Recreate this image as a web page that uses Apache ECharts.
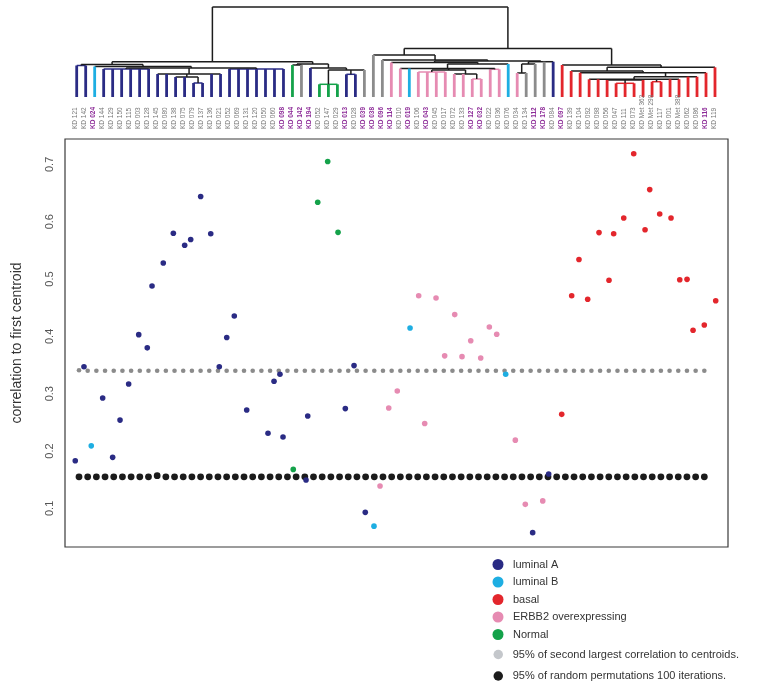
<!DOCTYPE html>
<html><head><meta charset="utf-8">
<script src="https://cdn.jsdelivr.net/npm/echarts@6/dist/echarts.min.js"></script>
<style>html,body{margin:0;padding:0;background:#fff}#c{width:763px;height:687px}</style>
</head><body><div id="c"></div>
<script>
// ---------- DATA ----------
const sampleLabels = ["KD 121","KD 142","KD 024","KD 144","KD 129","KD 150","KD 115","KD 003","KD 128","KD 145",
 "KD 080","KD 138","KD 075","KD 079","KD 137","KD 136","KD 021","KD 052","KD 069","KD 131",
 "KD 120","KD 050","KD 060","KD 098","KD 044","KD 142","KD 194","KD 052","KD 147","KD 029",
 "KD 013","KD 028","KD 039","KD 038","KD 096","KD 114","KD 010","KD 019","KD 106","KD 043",
 "KD 045","KD 017","KD 072","KD 133","KD 127","KD 032","KD 022","KD 036","KD 076","KD 034",
 "KD 134","KD 112","KD 178","KD 084","KD 097","KD 139","KD 104","KD 092","KD 098","KD 056",
 "KD 047","KD 111","KD 073","KD Met 362","KD Met 298","KD 117","KD 001","KD Met 388","KD 062","KD 086",
 "KD 116","KD 119"];
const purpleLabels = [2, 23, 24, 25, 26, 30, 32, 33, 34, 35, 37, 39, 44, 45, 51, 52, 54, 70];

// subtype of each sample (A luminal A, B luminal B, R basal, E ERBB2, N normal)
const sampleClass = ["A","A","B","A","A","A","A","A","A","A",
 "A","A","A","A","A","A","A","A","A","A",
 "A","A","A","A","N","A","A","N","N","N",
 "A","A","A","B","E","E","E","B","E","E",
 "E","E","E","E","E","E","E","E","B","E",
 "E","A","E","A","R","R","R","R","R","R",
 "R","R","R","R","R","R","R","R","R","R",
 "R","R"];
// horizontal position of each sample's point (in dendrogram leaf units)
const samplePos = [-0.16,0.81,1.62,2.89,4.00,4.82,5.78,6.90,7.85,8.38,
 9.63,10.75,12.01,12.68,13.79,14.91,15.86,16.69,17.53,18.91,
 21.28,21.95,22.61,22.95,24.09,25.51,25.70,26.81,27.92,29.07,
 29.88,30.85,32.10,33.07,33.74,34.71,35.66,37.08,38.04,38.71,
 39.97,40.93,42.05,42.86,43.83,44.94,45.90,46.72,47.72,48.79,
 49.90,50.72,51.84,52.50,53.95,55.06,55.87,56.84,58.10,59.21,
 59.73,60.85,61.96,63.22,63.74,64.85,66.11,67.08,67.89,68.56,
 69.81,71.08];
const corrValues = [0.183,0.347,0.209,0.2925,0.189,0.254,0.317,0.403,0.380,0.488,
 0.528,0.580,0.559,0.569,0.644,0.579,0.347,0.398,0.4355,0.2716,
 0.231,0.3216,0.334,0.2245,0.168,0.1495,0.261,0.634,0.705,0.5815,
 0.274,0.349,0.093,0.069,0.139,0.275,0.3047,0.4146,0.471,0.248,
 0.467,0.366,0.438,0.3646,0.3925,0.3623,0.4164,0.4036,0.334,0.219,
 0.107,0.0576,0.113,0.160,0.264,0.471,0.534,0.4647,0.581,0.498,
 0.579,0.6065,0.7187,0.586,0.656,0.6135,0.6065,0.4989,0.4995,0.4106,
 0.4199,0.4622];
// dendrogram leaf colours (G = gray / unassigned)
const leafColorClass = ["A","A","B","A","A","A","A","A","A","A",
 "A","A","A","A","A","A","A","A","A","A",
 "A","A","A","A","N","G","A","N","N","N",
 "A","A","G","G","G","E","E","B","E","E",
 "E","E","E","E","E","E","E","E","B","E",
 "G","G","G","A","R","R","R","R","R","R",
 "R","R","R","R","R","R","R","R","R","R",
 "R","R"];
// merge tree: [height, child, child, ...]; numbers are leaf indices
const dendroTree =
[90,
  [35.3,
    [32.5, [31.5, 0, 1], [30.5, 2, [29, [28, 3, 4, 5, 6, 7, 8], [23, 9, 10, [20, 11, 12, [14, 13, 14]], 15, 16], [28, 17, 18, 19, 20, 21, 22, 23]]]],
    [33, [32, 24, 25], [29, 26, [27, [12.7, 27, 28, 29], [22.7, 30, 31], 32]]]
  ],
  [48.5,
    [42, 33, [37, 34, [36,
        [34.5, 35, [33, [28.5, 36, 37, [27, [25, 38, 39, 40, 41], [23, 42, 43, [18, 44, 45]]], [27.7, 46, 47]], 48]],
        [35.3, [33, [24, 49, 50], 51], 52, 53]
    ]]],
    [32, 54, [29.7, [26, 55, [24.3, 56, [20.3, [17.7, 57, 58, [17, 59, [13.7, 60, 61, 62], 63], [15.3, 64, 65], 66, 67], 68, 69], 70]], 71]]
  ]
];
// 95% of random permutations (black row) and 95% of second largest correlation (gray row)
const permRow = [0.155,0.155,0.155,0.155,0.155,0.155,0.155,0.155,0.155,0.157,
 0.155,0.155,0.155,0.155,0.155,0.155,0.155,0.155,0.155,0.155,
 0.155,0.155,0.155,0.155,0.155,0.155,0.155,0.155,0.155,0.155,
 0.155,0.155,0.155,0.155,0.155,0.155,0.155,0.155,0.155,0.155,
 0.155,0.155,0.155,0.155,0.155,0.155,0.155,0.155,0.155,0.155,
 0.155,0.155,0.155,0.155,0.155,0.155,0.155,0.155,0.155,0.155,
 0.155,0.155,0.155,0.155,0.155,0.155,0.155,0.155,0.155,0.155,
 0.155,0.155,0.155];
const secondRow = [0.341,0.34,0.34,0.34,0.34,0.34,0.34,0.34,0.34,0.34,
 0.34,0.34,0.34,0.34,0.34,0.34,0.34,0.34,0.34,0.34,
 0.34,0.34,0.34,0.34,0.34,0.34,0.34,0.34,0.34,0.34,
 0.34,0.34,0.34,0.34,0.34,0.34,0.34,0.34,0.34,0.34,
 0.34,0.34,0.34,0.34,0.34,0.34,0.34,0.34,0.34,0.34,
 0.34,0.34,0.34,0.34,0.34,0.34,0.34,0.34,0.34,0.34,
 0.34,0.34,0.34,0.34,0.34,0.34,0.34,0.34,0.34,0.34,
 0.34,0.34,0.34];
const yTicks = [0.1, 0.2, 0.3, 0.4, 0.5, 0.6, 0.7];
const classOrder = ["A","B","R","E","N"];
const classNames = {A:"luminal A", B:"luminal B", R:"basal", E:"ERBB2 overexpressing", N:"Normal"};
const secondName = "95% of second largest correlation to centroids.";
const permName = "95% of random permutations 100 iterations.";

// ---------- STYLE ----------
const colors = {A:"#2a2b84", B:"#1eaee2", R:"#e3262c", E:"#e68bb2", N:"#14a24a", G:"#8c8c8c", K:"#1c1c1c"};
const FONT = "Liberation Sans, Arial, sans-serif";

// ---------- DENDROGRAM SEGMENTS ----------
const segs = [];
function lay(node) {
  if (typeof node === "number") return {x: node, h: 0, leaf: true, idx: node};
  const h = node[0];
  const kids = node.slice(1).map(lay);
  const first = kids[0], last = kids[kids.length - 1];
  const x = (first.x + last.x) / 2;
  const same = kids.every(k => k.leaf && leafColorClass[k.idx] === leafColorClass[first.idx]);
  segs.push({x1: first.x, y1: h, x2: last.x, y2: h, c: same ? leafColorClass[first.idx] : "K", w: 1.5});
  kids.forEach(k => segs.push({x1: k.x, y1: k.h, x2: k.x, y2: h,
      c: k.leaf ? leafColorClass[k.idx] : "K", w: k.leaf ? 2.8 : 1.5}));
  return {x, h, leaf: false};
}
lay(dendroTree);

const xMin = -1.301, xMax = 72.447;
const yMin = 0.0326, yMax = 0.7443;

const series = [];
series.push({
  type: "custom", name: "dendrogram", xAxisIndex: 1, yAxisIndex: 1, silent: true,
  data: segs.map(s => [s.x1, s.y1, s.x2, s.y2]),
  encode: {x: [0, 2], y: [1, 3]},
  renderItem: function (params, api) {
    const s = segs[params.dataIndex];
    const p1 = api.coord([s.x1, s.y1]);
    const p2 = api.coord([s.x2, s.y2]);
    return {type: "line", shape: {x1: p1[0], y1: p1[1], x2: p2[0], y2: p2[1]},
      style: {stroke: colors[s.c], lineWidth: s.w, lineCap: "butt"}};
  }
});
series.push({
  type: "custom", name: "labels", xAxisIndex: 1, yAxisIndex: 1, silent: true,
  data: sampleLabels.map((l, i) => [i, 0]),
  encode: {x: 0, y: 1},
  renderItem: function (params, api) {
    const i = params.dataIndex;
    const p = api.coord([i, 0]);
    const purple = purpleLabels.indexOf(i) >= 0;
    return {type: "text", x: p[0] - 1, y: p[1] + 32, rotation: Math.PI / 2,
      style: {text: sampleLabels[i], fill: purple ? "#8d2c98" : "#777",
        font: (purple ? "bold " : "") + "6.5px " + FONT, align: "left", verticalAlign: "middle"}};
  }
});
series.push({
  type: "scatter", name: secondName, xAxisIndex: 2, yAxisIndex: 2, symbol: "circle", symbolSize: 4.6,
  itemStyle: {color: "#8b8b8b", opacity: 1}, data: secondRow.map((v, j) => [j, v]), silent: true
});
series.push({
  type: "scatter", name: permName, xAxisIndex: 2, yAxisIndex: 2, symbol: "circle", symbolSize: 6.8,
  itemStyle: {color: "#1b1b1b", opacity: 1}, data: permRow.map((v, j) => [j, v]), silent: true
});
classOrder.forEach(c => {
  const d = [];
  sampleClass.forEach((k, i) => { if (k === c) d.push([samplePos[i], corrValues[i]]); });
  series.push({type: "scatter", name: classNames[c], xAxisIndex: 0, yAxisIndex: 0, symbol: "circle",
    symbolSize: 5.6, itemStyle: {color: colors[c], opacity: 1}, data: d, silent: true});
});

const option = {
  animation: false,
  backgroundColor: "#fff",
  textStyle: {fontFamily: FONT},
  grid: [
    {left: 65, right: 35, top: 139, bottom: 140, show: true, borderColor: "#3a3a3a", borderWidth: 1.2, backgroundColor: "transparent"},
    {left: 65, right: 35, top: 7, height: 90},
    {left: 74.66, width: 634, top: 139, bottom: 140}
  ],
  xAxis: [
    {gridIndex: 0, type: "value", min: xMin, max: xMax, show: false},
    {gridIndex: 1, type: "value", min: xMin, max: xMax, show: false},
    {gridIndex: 2, type: "value", min: -0.5, max: 72.5, show: false}
  ],
  yAxis: [
    {gridIndex: 0, type: "value", min: yMin, max: yMax,
      axisLine: {show: false}, axisTick: {show: false}, splitLine: {show: false},
      axisLabel: {customValues: yTicks, rotate: 90, fontSize: 11, color: "#555", margin: 10,
        fontFamily: FONT, formatter: v => v.toFixed(1)},
      name: "correlation to first centroid", nameLocation: "middle", nameGap: 41,
      nameTextStyle: {fontSize: 14, color: "#333", fontFamily: FONT}},
    {gridIndex: 1, type: "value", min: 0, max: 90, show: false},
    {gridIndex: 2, type: "value", min: yMin, max: yMax, show: false}
  ],
  legend: [
    {orient: "vertical", left: 492.5, top: 559, padding: 0, itemWidth: 20, itemHeight: 11, itemGap: 6.5, icon: "circle",
      selectedMode: false, textStyle: {fontSize: 11, color: "#333", fontFamily: FONT},
      data: classOrder.map(c => classNames[c])},
    {orient: "vertical", left: 493.5, top: 649, bottom: 0, padding: 0, itemWidth: 19, itemHeight: 9.5, itemGap: 10.5, icon: "circle",
      selectedMode: false, textStyle: {fontSize: 11, color: "#333", fontFamily: FONT},
      data: [{name: secondName, itemStyle: {color: "#c4c7cb"}}, {name: permName, itemStyle: {color: "#1b1b1b"}}]}
  ],
  series: series
};
const chart = echarts.init(document.getElementById("c"), null, {renderer: "canvas"});
chart.setOption(option);
</script>
</body></html>
